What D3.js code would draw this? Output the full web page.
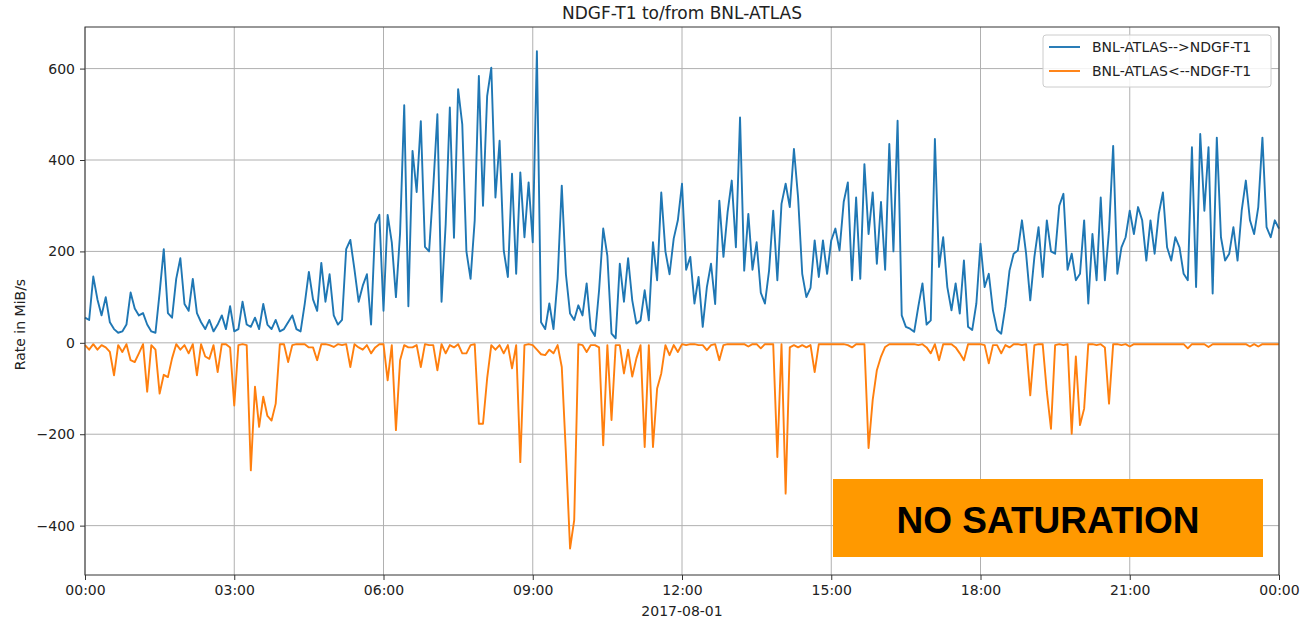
<!DOCTYPE html>
<html>
<head>
<meta charset="utf-8">
<script src="https://cdn.jsdelivr.net/npm/d3@7"></script>
<style>
  body { margin: 0; background: #fff; }
  text { font-family: "DejaVu Sans", sans-serif; fill: #222; }
</style>
</head>
<body>
<div id="viz"></div>
<script>
var width = 1303,
    height = 621;

var margin = {top: 27, right: 24, bottom: 46, left: 85};

var azul = '#1f77b4',
    naranja = '#ff7f0e';

// one value every 5 minutes, 12 per hour, 2017-08-01 00:00 .. 24:00 (MiB/s)
var outRate = [
  55, 50, 145, 95, 60, 100, 45, 30, 22, 25, 40, 110,      // 00h
  75, 60, 65, 40, 25, 22, 110, 205, 65, 55, 140, 185,     // 01h
  85, 70, 140, 65, 45, 30, 50, 25, 40, 60, 30, 80,        // 02h
  25, 30, 90, 40, 35, 55, 30, 85, 40, 30, 50, 25,         // 03h
  30, 45, 60, 30, 25, 85, 155, 95, 70, 175, 90, 150,      // 04h
  60, 40, 50, 205, 225, 160, 90, 125, 150, 40, 260, 280,  // 05h
  70, 280, 220, 100, 240, 520, 80, 420, 330, 485, 210, 200,   // 06h
  340, 500, 90, 260, 515, 230, 555, 478, 200, 140, 268, 584,  // 07h
  300, 540, 602, 318, 442, 202, 144, 370, 151, 373, 231, 351, // 08h
  220, 638, 45, 30, 86, 30, 140, 344, 150, 64, 50, 82,        // 09h
  60, 130, 30, 15, 115, 250, 190, 20, 10, 173, 90, 185,       // 10h
  93, 42, 49, 115, 49, 220, 137, 329, 200, 150, 228, 268,     // 11h
  348, 160, 188, 86, 144, 35, 122, 173, 85, 311, 188, 286,    // 12h
  355, 209, 493, 158, 282, 160, 220, 110, 86, 158, 289, 137,  // 13h
  304, 348, 297, 424, 318, 151, 100, 120, 224, 144, 224, 151, // 14h
  224, 250, 202, 308, 351, 137, 318, 140, 391, 238, 329, 173, // 15h
  308, 160, 435, 200, 486, 60, 35, 31, 24, 79, 130, 40,       // 16h
  49, 446, 166, 231, 122, 71, 130, 64, 180, 35, 28, 86,       // 17h
  217, 122, 151, 71, 28, 20, 79, 158, 195, 202, 268, 195,     // 18h
  93, 188, 253, 144, 268, 200, 195, 300, 326, 160, 195, 137,  // 19h
  151, 268, 86, 238, 137, 318, 137, 246, 431, 151, 209, 231,  // 20h
  289, 238, 297, 268, 180, 268, 195, 282, 329, 209, 180, 231, // 21h
  209, 151, 137, 428, 122, 457, 289, 428, 108, 449, 231, 180, // 22h
  195, 253, 180, 289, 355, 268, 238, 297, 449, 253, 231, 268, // 23h
  250
];

var inRate = [
  -5, -15, -3, -15, -5, -10, -20, -71, -5, -20, -3, -38,          // 00h
  -42, -23, -3, -107, -5, -15, -111, -70, -75, -34, -3, -15,      // 01h
  -5, -23, -3, -71, -3, -30, -35, -5, -64, -3, -3, -10,           // 02h
  -137, -5, -3, -5, -279, -96, -184, -118, -160, -170, -133, -3,  // 03h
  -3, -42, -5, -3, -3, -3, -10, -10, -38, -3, -3, -5,             // 04h
  -9, -3, -5, -3, -53, -3, -10, -15, -5, -23, -10, -3,            // 05h
  -3, -82, -5, -191, -38, -5, -10, -10, -5, -53, -3, -5,          // 06h
  -5, -60, -3, -23, -5, -10, -3, -23, -23, -5, -3, -177,          // 07h
  -177, -78, -5, -15, -5, -23, -5, -56, -5, -261, -5, -3,         // 08h
  -5, -15, -25, -27, -15, -23, -5, -53, -242, -450, -388, -3,     // 09h
  -5, -20, -5, -5, -10, -224, -5, -169, -5, -5, -67, -15,         // 10h
  -74, -34, -5, -228, -5, -228, -100, -67, -5, -27, -5, -20,      // 11h
  -3, -5, -3, -3, -5, -5, -16, -5, -3, -38, -5, -3,               // 12h
  -3, -3, -3, -3, -8, -3, -3, -12, -3, -3, -3, -250,              // 13h
  -3, -330, -10, -5, -10, -5, -10, -5, -64, -3, -3, -3,           // 14h
  -3, -3, -3, -3, -5, -10, -3, -3, -3, -230, -125, -60,           // 15h
  -30, -9, -3, -3, -3, -3, -3, -3, -3, -5, -3, -10,               // 16h
  -23, -3, -38, -3, -3, -3, -10, -23, -38, -3, -3, -3,            // 17h
  -3, -5, -45, -5, -5, -23, -5, -10, -3, -3, -5, -3,              // 18h
  -115, -5, -3, -3, -107, -188, -5, -3, -5, -3, -199, -30,        // 19h
  -180, -144, -3, -3, -5, -3, -10, -133, -3, -3, -5, -3,          // 20h
  -8, -3, -3, -3, -3, -3, -3, -3, -3, -3, -3, -3,                 // 21h
  -3, -3, -12, -3, -3, -3, -3, -9, -3, -3, -3, -3,                // 22h
  -3, -3, -3, -3, -3, -8, -3, -8, -3, -3, -3, -3,                 // 23h
  -3
];

var seriesNames = ['BNL-ATLAS-->NDGF-T1', 'BNL-ATLAS<--NDGF-T1'];
var yTicks = [-400, -200, 0, 200, 400, 600];
var dayStart = new Date(Date.UTC(2017, 7, 1, 0, 0));
var dayEnd = new Date(Date.UTC(2017, 7, 2, 0, 0));
var stepMs = 5 * 60 * 1000;

var svg = d3.select('#viz')
  .append('svg')
  .attr('width', width)
  .attr('height', height);

var x = d3.scaleUtc()
  .domain([dayStart, dayEnd])
  .range([margin.left, width - margin.right]);

var y = d3.scaleLinear()
  .domain([-508, 691])
  .range([height - margin.bottom, margin.top]);

function tiempo(i) { return new Date(dayStart.getTime() + i * stepMs); }

//grid
var grid = svg.append('g').attr('class', 'grid');
grid.selectAll('line.v')
  .data(x.ticks(d3.utcHour.every(3)))
  .enter().append('line')
  .attr('x1', function(d) { return x(d); })
  .attr('x2', function(d) { return x(d); })
  .attr('y1', margin.top)
  .attr('y2', height - margin.bottom)
  .attr('stroke', '#b0b0b0')
  .attr('stroke-width', 1);
grid.selectAll('line.h')
  .data(yTicks)
  .enter().append('line')
  .attr('x1', margin.left)
  .attr('x2', width - margin.right)
  .attr('y1', function(d) { return y(d); })
  .attr('y2', function(d) { return y(d); })
  .attr('stroke', '#b0b0b0')
  .attr('stroke-width', 1);

//lines
var linea = d3.line()
  .x(function(d, i) { return x(tiempo(i)); })
  .y(function(d) { return y(d); });

svg.append('path')
  .datum(outRate)
  .attr('d', linea)
  .attr('fill', 'none')
  .attr('stroke', azul)
  .attr('stroke-width', 1.9)
  .attr('stroke-linejoin', 'round');

svg.append('path')
  .datum(inRate)
  .attr('d', linea)
  .attr('fill', 'none')
  .attr('stroke', naranja)
  .attr('stroke-width', 1.9)
  .attr('stroke-linejoin', 'round');

//axes
var xAxis = svg.append('g')
  .attr('transform', 'translate(0,' + (height - margin.bottom) + ')')
  .call(d3.axisBottom(x).ticks(d3.utcHour.every(3)).tickFormat(d3.utcFormat('%H:%M')).tickSize(5).tickPadding(5));

var yAxis = svg.append('g')
  .attr('transform', 'translate(' + margin.left + ',0)')
  .call(d3.axisLeft(y).tickValues(yTicks).tickSize(5).tickPadding(5));

svg.selectAll('.tick text')
  .style('font-family', '"DejaVu Sans", sans-serif')
  .style('font-size', '14px')
  .attr('fill', '#222');
svg.selectAll('.tick line').attr('stroke', '#333');
svg.selectAll('.domain').remove();

//frame
svg.append('rect')
  .attr('x', margin.left)
  .attr('y', margin.top)
  .attr('width', width - margin.left - margin.right)
  .attr('height', height - margin.top - margin.bottom)
  .attr('fill', 'none')
  .attr('stroke', '#333')
  .attr('stroke-width', 1);

//texts
svg.append('text')
  .attr('x', (margin.left + width - margin.right) / 2)
  .attr('y', 19)
  .attr('text-anchor', 'middle')
  .style('font-size', '17px')
  .text('NDGF-T1 to/from BNL-ATLAS');

svg.append('text')
  .attr('x', (margin.left + width - margin.right) / 2)
  .attr('y', 616)
  .attr('text-anchor', 'middle')
  .style('font-size', '14px')
  .text('2017-08-01');

svg.append('text')
  .attr('transform', 'translate(25,' + y(40) + ') rotate(-90)')
  .attr('text-anchor', 'middle')
  .style('font-size', '14px')
  .text('Rate in MiB/s');

//legend
var leyenda = svg.append('g').attr('transform', 'translate(1043,35)');
leyenda.append('rect')
  .attr('width', 228)
  .attr('height', 52)
  .attr('rx', 3)
  .attr('fill', 'white')
  .attr('fill-opacity', 0.85)
  .attr('stroke', '#cccccc');
leyenda.selectAll('line')
  .data(seriesNames)
  .enter().append('line')
  .attr('x1', 6)
  .attr('x2', 37)
  .attr('y1', function(d, i) { return 12 + i * 24; })
  .attr('y2', function(d, i) { return 12 + i * 24; })
  .attr('stroke', function(d, i) { return i === 0 ? azul : naranja; })
  .attr('stroke-width', 1.9);
leyenda.selectAll('text')
  .data(seriesNames)
  .enter().append('text')
  .attr('x', 49)
  .attr('y', function(d, i) { return 17 + i * 24; })
  .style('font-size', '14px')
  .text(function(d) { return d; });

//overlay box
svg.append('rect')
  .attr('x', 833)
  .attr('y', 479)
  .attr('width', 430)
  .attr('height', 78)
  .attr('fill', '#ff9900');
svg.append('text')
  .attr('x', 1048)
  .attr('y', 533)
  .attr('text-anchor', 'middle')
  .style('font-family', '"Liberation Sans", Arial, sans-serif')
  .style('font-weight', 'bold')
  .style('font-size', '37px')
  .style('fill', '#000')
  .text('NO SATURATION');
</script>
</body>
</html>
